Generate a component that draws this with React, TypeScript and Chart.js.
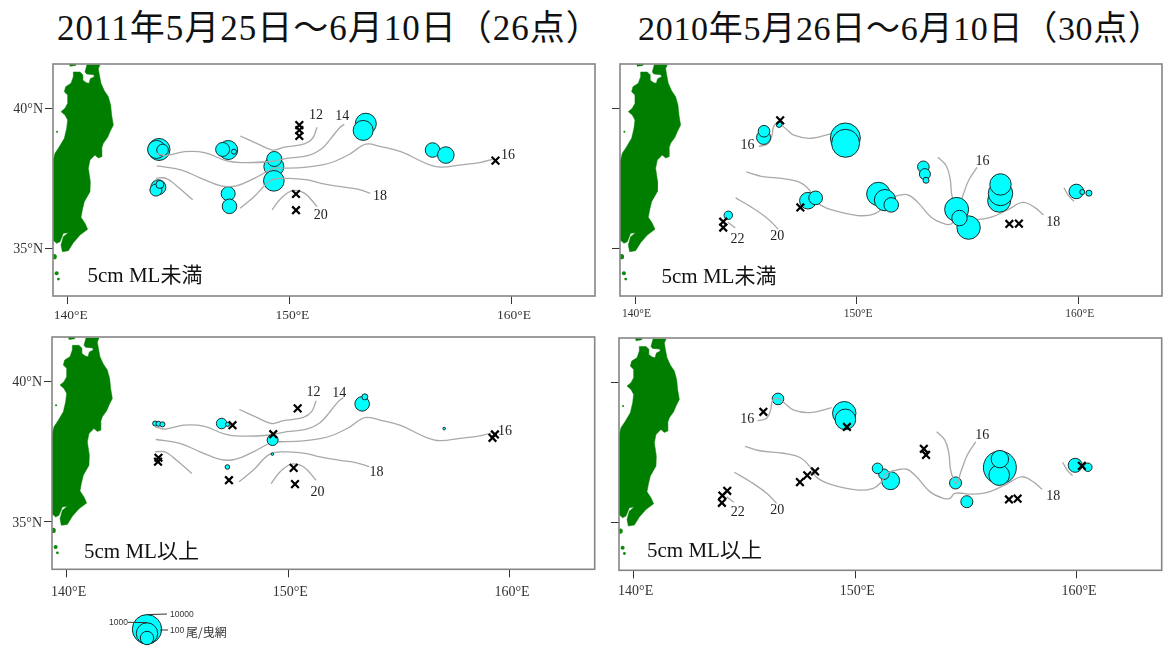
import React, { useEffect, useRef } from "react";
import { Chart, registerables } from "chart.js";

Chart.register(...registerables);

// ---------- map data (lon, lat) ----------
const honshuOutline = [
  [138.5, 38.094], [139.337, 38.094], [139.427, 38.392], [139.607, 38.606], [139.848, 38.927], [139.953, 39.284],
  [139.998, 39.582], [139.878, 39.761], [139.698, 39.88], [139.878, 39.999], [139.998, 40.177], [139.998, 40.475],
  [139.848, 40.594], [139.908, 40.773], [140.149, 40.892], [140.254, 41.13], [140.254, 41.296], [140.555, 41.296],
  [140.675, 41.201], [140.675, 41.011], [140.84, 40.915], [140.961, 40.892], [141.021, 41.058], [141.201, 41.13],
  [141.171, 41.201], [140.855, 41.225], [140.78, 41.296], [140.87, 41.558], [141.457, 41.558], [141.382, 41.415],
  [141.427, 41.201], [141.502, 40.892], [141.652, 40.63], [141.833, 40.415], [141.938, 40.118], [141.983, 39.761],
  [142.058, 39.403], [141.908, 39.165], [141.803, 38.963], [141.607, 38.749], [141.532, 38.57], [141.532, 38.273],
  [141.382, 38.225], [141.231, 38.332], [141.006, 38.154], [140.931, 37.856], [141.021, 37.38], [141.006, 37.023],
  [140.75, 36.665], [140.66, 36.368], [140.6, 36.106], [140.78, 35.892], [140.9, 35.677], [140.555, 35.475],
  [140.254, 35.201], [140.028, 34.915], [139.758, 34.88], [139.698, 35.118], [139.803, 35.415], [140.028, 35.558],
  [139.803, 35.534], [139.653, 35.237], [139.502, 35.177], [139.337, 35.296], [138.5, 35.296],
];
const hokkaidoOutline = [[140.0, 41.7], [140.42, 41.7], [140.36, 41.53], [140.1, 41.5]];
const smallIslands = [[139.52, 39.165], [139.39, 34.7], [139.5, 34.106], [139.58, 33.9]];
const islandSizes = [1, 2.6, 2, 1.4];

// ---------- isotherms 2011 ----------
const iso2011Line12 = [[147.79, 39.01], [148.57, 38.73], [149.25, 38.51], [149.78, 38.61], [150.68, 38.73], [151.05, 38.93], [151.25, 39.32]];
const iso2011Line14 = [[144.0, 38.39], [144.44, 38.31], [145.27, 38.45], [146.17, 38.42], [147.14, 38.13], [147.82, 38.06], [149.17, 38.1], [149.93, 38.22], [150.83, 38.31], [151.43, 38.54], [151.88, 38.93], [152.25, 39.29], [152.48, 39.43]];
const iso2011Line16 = [[144.02, 37.94], [145.11, 37.8], [146.02, 37.5], [146.92, 37.23], [147.6, 37.23], [148.42, 37.5], [149.32, 37.86], [149.63, 37.86], [150.68, 37.89], [151.43, 37.97], [152.03, 38.1], [152.78, 38.39], [153.45, 38.72], [154.13, 38.63], [155.03, 38.45], [156.24, 38.01], [156.84, 37.9], [157.74, 37.98], [158.64, 38.07], [159.17, 38.18]];
const iso2011Line18 = [[147.78, 36.43], [148.42, 36.85], [149.17, 37.42], [149.93, 37.5], [150.83, 37.44], [151.43, 37.32], [152.33, 37.2], [153.08, 37.11], [153.65, 36.97]];
const iso2011LineWest = [[143.99, 37.5], [144.44, 37.5], [144.96, 37.2], [145.64, 36.73]];
const iso2011Line20 = [[149.22, 36.37], [149.63, 36.79], [150.15, 37.06], [150.68, 36.97], [151.25, 36.49]];

// ---------- isotherms 2010 ----------
const iso2010Line16West = [[145.59, 38.64], [146.0, 38.73], [146.18, 39.03], [146.27, 39.38], [146.52, 39.44], [146.82, 39.26], [147.2, 39.03], [147.95, 38.93], [148.93, 39.11]];
const iso2010Line18 = [[145.02, 37.73], [145.7, 37.57], [146.75, 37.48], [147.5, 37.33], [147.95, 37.0], [148.25, 36.62], [148.85, 36.38], [150.06, 36.17], [150.81, 36.23], [151.19, 36.47], [151.41, 36.76], [151.86, 36.88], [152.31, 36.91], [152.76, 36.64], [153.36, 36.11], [153.97, 35.87], [154.27, 35.87], [154.49, 36.05], [155.32, 36.02], [156.07, 36.11], [156.82, 36.38], [157.5, 36.64], [158.03, 36.46], [158.43, 36.19]];
const iso2010Line20 = [[144.54, 36.8], [145.25, 36.47], [146.0, 36.05], [146.45, 35.69]];
const iso2010Line22 = [[144.19, 35.93], [144.52, 35.73]];
const iso2010Line16Center = [[153.67, 38.25], [154.04, 37.95], [154.22, 37.47], [154.3, 36.88], [154.54, 36.4], [154.79, 36.88], [155.05, 37.42], [155.43, 37.89]];
const iso2010LineEast = [[159.35, 37.16], [159.56, 36.88], [159.8, 36.68]];

// ---------- catch per tow: lon, lat, fish per net ----------
const catchSmall2011 = [
  [144.12, 38.53, 1189], [144.01, 38.53, 376], [144.28, 38.51, 60],
  [144.09, 37.18, 158], [143.98, 37.08, 67], [144.16, 37.28, 21],
  [147.24, 38.51, 501], [146.99, 38.53, 119], [147.5, 38.45, 9],
  [149.3, 37.92, 668], [149.32, 38.19, 158], [149.3, 37.41, 800],
  [147.24, 36.95, 119], [147.3, 36.5, 140],
  [153.45, 39.45, 891], [153.33, 39.21, 668],
  [156.46, 38.51, 140], [157.06, 38.33, 250],
];
const catchLarge2011 = [
  [143.99, 38.51, 9], [144.14, 38.5, 9], [144.32, 38.48, 9],
  [146.99, 38.51, 44], [147.26, 38.48, 7],
  [147.25, 36.96, 8], [149.29, 37.92, 50], [149.28, 37.42, 4.5],
  [153.33, 39.21, 140], [153.45, 39.46, 12], [157.03, 38.33, 4.5],
];
const catchSmall2010 = [
  [145.8, 38.96, 119], [145.82, 39.18, 60], [146.5, 39.42, 11],
  [149.49, 38.94, 11885], [149.5, 38.75, 6683],
  [147.8, 36.7, 250], [148.15, 36.8, 110],
  [144.21, 36.18, 24],
  [150.98, 36.94, 1800], [151.28, 36.72, 980], [151.56, 36.55, 140],
  [153.01, 37.91, 60], [153.08, 37.65, 50], [153.13, 37.43, 12],
  [154.51, 36.39, 2113], [155.05, 35.74, 1800], [154.64, 36.08, 180],
  [156.43, 36.7, 1585], [156.49, 36.96, 2400], [156.49, 37.28, 1000],
  [159.91, 37.03, 140], [160.18, 37.01, 9], [160.48, 36.97, 12],
];
const catchLarge2010 = [
  [146.51, 39.42, 60],
  [149.5, 38.91, 1800], [149.55, 38.69, 800],
  [151.59, 36.5, 376], [151.29, 36.73, 44], [151.0, 36.94, 44],
  [154.52, 36.42, 67], [155.03, 35.75, 67],
  [156.52, 36.97, 28000], [156.49, 36.7, 800], [156.52, 37.27, 320],
  [159.92, 37.05, 119], [160.49, 36.98, 24],
];

// ---------- zero catch stations ----------
const zeroSmall2011 = [[150.45, 39.4], [150.45, 39.22], [150.45, 39.01], [150.3, 36.94], [150.3, 36.36], [159.3, 38.13]];
const zeroLarge2011 = [[150.42, 39.05], [147.48, 38.45], [149.32, 38.13], [144.14, 37.29], [144.12, 37.15], [150.24, 36.93], [147.32, 36.49], [150.3, 36.35], [159.32, 38.12], [159.21, 38.0]];
const zeroSmall2010 = [[146.55, 39.57], [143.98, 35.95], [143.98, 35.74], [147.46, 36.46], [156.89, 35.87], [157.32, 35.88]];
const zeroLarge2010 = [[145.85, 38.96], [149.62, 38.42], [148.18, 36.83], [147.83, 36.69], [147.5, 36.45], [144.22, 36.14], [144.0, 35.97], [143.98, 35.71], [153.09, 37.64], [153.19, 37.42], [156.93, 35.83], [157.32, 35.86], [160.22, 37.03]];

// ---------- isotherm labels ----------
const labelsSmall2011 = [["12", 151.2, 39.78], ["14", 152.39, 39.75], ["16", 159.87, 38.37], ["18", 154.09, 36.9], ["20", 151.42, 36.22]];
const labelsLarge2011 = [["12", 151.13, 39.66], ["14", 152.3, 39.63], ["16", 159.77, 38.26], ["18", 153.98, 36.79], ["20", 151.32, 36.08]];
const labelsSmall2010 = [["16", 145.07, 38.7], ["20", 146.42, 35.47], ["22", 144.63, 35.37], ["16", 155.68, 38.15], ["18", 158.87, 35.97]];
const labelsLarge2010 = [["16", 145.12, 38.71], ["20", 146.48, 35.48], ["22", 144.69, 35.39], ["16", 155.73, 38.16], ["18", 158.93, 35.99]];

const lonTicks = [140, 150, 160];
const latTicks = [35, 40];
const legendValues = [10000, 1000, 100];
const titles = ["2011年5月25日～6月10日（26点）", "2010年5月26日～6月10日（30点）"];
const captions = ["5cm ML未満", "5cm ML以上"];

// ---------- helpers ----------
const SERIF = '"Liberation Serif", "Noto Sans CJK JP", serif';
const LAND = "#007e00";
const radiusOf = (v: number) => Math.max(1.2, 4 * Math.log10(v) - 1.3);
const toXY = (list: number[][]) => list.map(([x, y]) => ({ x, y }));

const textPlugin = {
  id: "mapText",
  afterDatasetsDraw(chart: any, _a: any, opts: any) {
    const { ctx, scales } = chart;
    ctx.save();
    ctx.textBaseline = "middle";
    ctx.textAlign = "center";
    for (const t of opts.items || []) {
      ctx.font = t.font || `14px ${SERIF}`;
      ctx.fillStyle = t.color || "#222";
      ctx.textAlign = t.align || "center";
      ctx.fillText(t.text, scales.x.getPixelForValue(t.x), scales.y.getPixelForValue(t.y) + (t.dy || 0));
    }
    ctx.restore();
  },
};

const framePlugin = {
  id: "mapFrame",
  afterDatasetsDraw(chart: any, _a: any, opts: any) {
    if (!opts.show) return;
    const { ctx, chartArea: a } = chart;
    ctx.save();
    ctx.strokeStyle = "#858585";
    ctx.lineWidth = 1.6;
    ctx.strokeRect(a.left, a.top, a.right - a.left, a.bottom - a.top);
    ctx.restore();
  },
};

function panelDatasets(lines: number[][][], catches: number[][], zeros: number[][], linesOver: boolean) {
  const lineSets = lines.map((l) => ({
    type: "scatter",
    data: toXY(l),
    showLine: true,
    borderColor: "#a9a9a9",
    borderWidth: 1.3,
    tension: 0.4,
    pointRadius: 0,
    order: linesOver ? 2 : 3.5,
  }));
  return [
    {
      type: "scatter",
      data: toXY(zeros),
      pointStyle: "crossRot",
      pointRadius: 5.4,
      pointBorderWidth: 2.2,
      pointBorderColor: "#000",
      order: 1,
    },
    ...lineSets,
    {
      type: "bubble",
      data: catches.map(([x, y, v]) => ({ x, y, r: radiusOf(v) })),
      backgroundColor: "#00ffff",
      borderColor: "#1a2a2a",
      borderWidth: 1,
      order: 3,
    },
    {
      type: "scatter",
      data: toXY(smallIslands),
      pointStyle: "circle",
      pointRadius: islandSizes,
      pointBackgroundColor: "#0b8a0b",
      pointBorderWidth: 0,
      order: 4,
    },
    {
      type: "scatter",
      data: toXY(hokkaidoOutline),
      showLine: true,
      fill: "shape",
      backgroundColor: LAND,
      borderColor: LAND,
      borderWidth: 0.5,
      pointRadius: 0,
      order: 4,
    },
    {
      type: "scatter",
      data: toXY(honshuOutline),
      showLine: true,
      fill: "shape",
      backgroundColor: LAND,
      borderColor: LAND,
      borderWidth: 0.5,
      pointRadius: 0,
      order: 4,
    },
  ];
}

const PANELS = [
  { cx: 0, cy: 56, cw: 600, ch: 264, l: 53, r: 595, t: 64, b: 296, x140: 67.7, x160: 511, y40: 108.3, y35: 248.3, tickFont: 13.5, pad: 6, labelShift: 3, linesOver: true, lines: 2011, catches: catchSmall2011, zeros: zeroSmall2011, labels: labelsSmall2011, yLabels: true, yFont: 14 },
  { cx: 600, cy: 56, cw: 563, ch: 264, l: 620, r: 1162, t: 64, b: 296, x140: 635, x160: 1078.3, y40: 108.3, y35: 248.3, tickFont: 11.5, pad: 6, labelShift: 1.5, linesOver: false, lines: 2010, catches: catchSmall2010, zeros: zeroSmall2010, labels: labelsSmall2010, yLabels: false, yFont: 12 },
  { cx: 0, cy: 330, cw: 600, ch: 272, l: 52, r: 594.7, t: 337, b: 569.3, x140: 66.7, x160: 510, y40: 381.7, y35: 522, tickFont: 14, pad: 10, labelShift: 2, linesOver: false, lines: 2011, catches: catchLarge2011, zeros: zeroLarge2011, labels: labelsLarge2011, yLabels: true, yFont: 14 },
  { cx: 600, cy: 330, cw: 563, ch: 272, l: 619, r: 1161.7, t: 338, b: 570.3, x140: 633.7, x160: 1077, y40: 382.7, y35: 522.7, tickFont: 14, pad: 8, labelShift: 2, linesOver: true, lines: 2010, catches: catchLarge2010, zeros: zeroLarge2010, labels: labelsLarge2010, yLabels: false, yFont: 12 },
];
const CAPTION_POS = [[87.5, 276], [661.5, 277], [84, 552], [647, 551]];
const X_AXIS_H = 30;

function buildPanel(canvas: HTMLCanvasElement, p: any) {
  const pxPerLon = (p.x160 - p.x140) / 20;
  const pxPerLat = (p.y35 - p.y40) / 5;
  const xMin = 140 - (p.x140 - p.l) / pxPerLon;
  const xMax = 140 + (p.r - p.x140) / pxPerLon;
  const yMax = 40 + (p.y40 - p.t) / pxPerLat;
  const yMin = 40 - (p.b - p.y40) / pxPerLat;
  const lines = p.lines === 2011
    ? [iso2011Line12, iso2011Line14, iso2011Line16, iso2011Line18, iso2011LineWest, iso2011Line20]
    : [iso2010Line16West, iso2010Line18, iso2010Line20, iso2010Line22, iso2010Line16Center, iso2010LineEast];
  return new Chart(canvas, {
    type: "scatter",
    data: { datasets: panelDatasets(lines, p.catches, p.zeros, p.linesOver) as any },
    plugins: [textPlugin, framePlugin],
    options: {
      responsive: false,
      animation: false,
      events: [],
      layout: {
        autoPadding: false,
        padding: {
          left: 0,
          top: p.t - p.cy,
          right: p.cw - (p.r - p.cx),
          bottom: p.ch - (p.b - p.cy) - X_AXIS_H,
        },
      },
      plugins: {
        legend: { display: false },
        tooltip: { enabled: false },
        mapFrame: { show: true },
        mapText: {
          items: p.labels.map(([text, x, y]: any) => ({ text, x, y, dy: 1, font: `14px ${SERIF}`, color: "#222" })),
        },
      } as any,
      scales: {
        x: {
          type: "linear",
          min: xMin,
          max: xMax,
          afterBuildTicks: (a: any) => { a.ticks = lonTicks.map((value) => ({ value })); },
          afterFit: (a: any) => { a.height = X_AXIS_H; a.paddingLeft = a.paddingRight = 0; },
          border: { display: false },
          grid: { drawOnChartArea: false, drawTicks: true, tickLength: 8, tickColor: "#333", tickWidth: 1 },
          ticks: {
            autoSkip: false,
            maxRotation: 0,
            padding: p.pad - 3,
            labelOffset: p.labelShift,
            color: "#333",
            font: { family: SERIF, size: p.tickFont },
            callback: (v: any) => `${v}°E`,
          },
        },
        y: {
          type: "linear",
          min: yMin,
          max: yMax,
          afterBuildTicks: (a: any) => { a.ticks = latTicks.map((value) => ({ value })); },
          afterFit: (a: any) => { a.width = p.l - p.cx; a.paddingTop = a.paddingBottom = 0; },
          border: { display: false },
          grid: { drawOnChartArea: false, drawTicks: true, tickLength: 8, tickColor: "#333", tickWidth: 1 },
          ticks: {
            autoSkip: false,
            padding: 2,
            labelOffset: 1,
            color: "#333",
            font: { family: SERIF, size: p.yFont },
            callback: (v: any) => (p.yLabels ? `${v}°N` : ""),
          },
        },
      },
    },
  } as any);
}

function buildLegend(canvas: HTMLCanvasElement) {
  const legendX = [147, 147, 147];
  const legendY = [629.3, 633.5, 638];
  const SANS = '"Liberation Sans", sans-serif';
  return new Chart(canvas, {
    type: "scatter",
    data: {
      datasets: [
        { type: "scatter", data: [{ x: 147, y: 614.6 }, { x: 167, y: 614 }], showLine: true, borderColor: "#333", borderWidth: 1, pointRadius: 0, order: 1 },
        { type: "scatter", data: [{ x: 128, y: 622.3 }, { x: 147, y: 622.6 }], showLine: true, borderColor: "#333", borderWidth: 1, pointRadius: 0, order: 1 },
        { type: "scatter", data: [{ x: 160, y: 630 }, { x: 168, y: 630 }], showLine: true, borderColor: "#333", borderWidth: 1, pointRadius: 0, order: 1 },
        {
          type: "bubble",
          data: legendValues.map((v, i) => ({ x: legendX[i], y: legendY[i], r: radiusOf(v) })),
          backgroundColor: "#00ffff",
          borderColor: "#1a2a2a",
          borderWidth: 1,
          order: 2,
        },
      ] as any,
    },
    plugins: [textPlugin],
    options: {
      responsive: false,
      animation: false,
      events: [],
      layout: { padding: 0, autoPadding: false },
      plugins: {
        legend: { display: false },
        tooltip: { enabled: false },
        mapText: {
          items: [
            { text: String(legendValues[0]), x: 170, y: 615, align: "left", font: `8.5px ${SANS}`, color: "#333" },
            { text: String(legendValues[1]), x: 109, y: 622.5, align: "left", font: `8.5px ${SANS}`, color: "#333" },
            { text: String(legendValues[2]), x: 170, y: 630.5, align: "left", font: `8.5px ${SANS}`, color: "#333" },
            { text: "尾/曳網", x: 186, y: 632, align: "left", font: `12px "Noto Sans CJK JP", sans-serif`, color: "#333" },
          ],
        },
      } as any,
      scales: {
        x: { type: "linear", min: 100, max: 240, display: false },
        y: { type: "linear", min: 606, max: 646, reverse: true, display: false },
      },
    },
  } as any);
}

export default function App() {
  const refs = useRef<(HTMLCanvasElement | null)[]>([]);
  const legendRef = useRef<HTMLCanvasElement | null>(null);
  useEffect(() => {
    const charts = PANELS.map((p, i) => buildPanel(refs.current[i]!, p));
    charts.push(buildLegend(legendRef.current!));
    return () => charts.forEach((c) => c.destroy());
  }, []);
  const abs: React.CSSProperties = { position: "absolute", whiteSpace: "pre", lineHeight: 1, color: "#111", fontFamily: SERIF };
  return (
    <div style={{ position: "absolute", left: 0, top: 0, width: 1163, height: 646, overflow: "hidden", background: "#fff" }}>
      {PANELS.map((p, i) => (
        <canvas
          key={i}
          ref={(el) => { refs.current[i] = el; }}
          width={p.cw}
          height={p.ch}
          style={{ position: "absolute", left: p.cx, top: p.cy, width: p.cw, height: p.ch, display: "block" }}
        />
      ))}
      <canvas ref={legendRef} width={140} height={40} style={{ position: "absolute", left: 100, top: 606, width: 140, height: 40, display: "block" }} />
      <div lang="ja" style={{ ...abs, left: 57, top: 11, fontSize: 35, letterSpacing: 1 }}>{titles[0]}</div>
      <div lang="ja" style={{ ...abs, left: 638, top: 12, fontSize: 34, letterSpacing: 0.7 }}>{titles[1]}</div>
      {CAPTION_POS.map(([x, y], i) => (
        <div key={i} lang="ja" style={{ ...abs, left: x, top: y - 11, fontSize: 21 }}>{captions[i < 2 ? 0 : 1]}</div>
      ))}
    </div>
  );
}
